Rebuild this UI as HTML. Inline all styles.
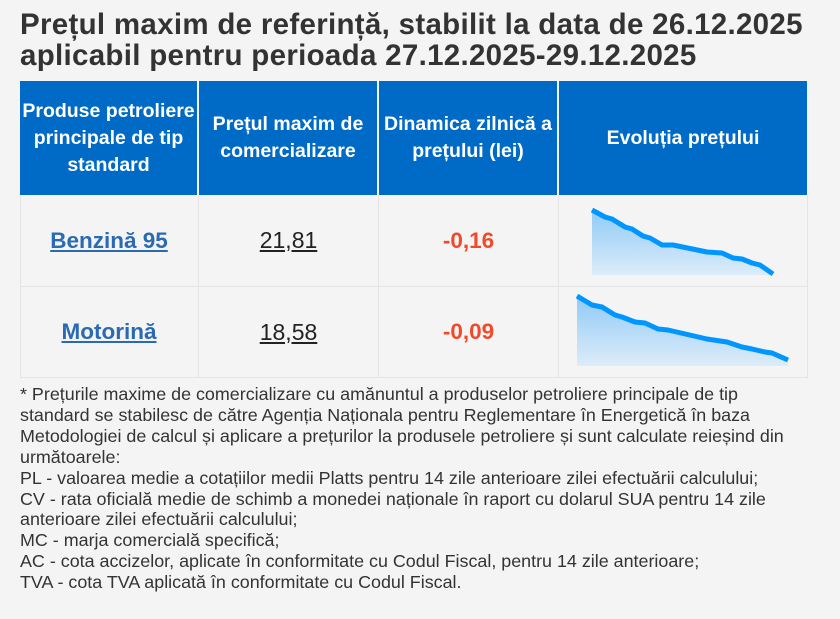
<!DOCTYPE html>
<html><head><meta charset="utf-8"><style>
*{margin:0;padding:0;box-sizing:border-box}
body{width:840px;height:619px;background:#f4f4f4;font-family:"Liberation Sans",sans-serif;color:#333;position:relative;overflow:hidden}
.t{position:absolute;left:20px;top:9px;font-size:29.5px;letter-spacing:0.3px;font-weight:bold;line-height:31px;color:#333;white-space:nowrap}
.cell{position:absolute;display:flex;align-items:center;justify-content:center;text-align:center}
.h{background:#006bc6;color:#fff;font-weight:bold;font-size:19.5px;line-height:27px;top:81px;height:114px}
.b{border-right:1px solid #e4e4e4;border-bottom:1px solid #e4e4e4}
a{color:#2a6ab4;font-weight:bold;font-size:22.5px;text-decoration:underline}
.n{font-size:23px;color:#222;text-decoration:underline}
.r{color:#f04a2a;font-weight:bold;font-size:22.5px}
.f{position:absolute;left:20px;top:384px;font-size:17.9px;line-height:20.9px;color:#333;width:815px;white-space:nowrap}
</style></head><body>
<div class="t">Prețul maxim de referință, stabilit la data de 26.12.2025<br>aplicabil pentru perioada 27.12.2025-29.12.2025</div>
<div class="cell h" style="left:20px;width:177px">Produse petroliere principale de tip standard</div>
<div class="cell h" style="left:199px;width:178px">Prețul maxim de<br>comercializare</div>
<div class="cell h" style="left:379px;width:178px">Dinamica zilnică a<br>prețului (lei)</div>
<div class="cell h" style="left:559px;width:248px">Evoluția prețului</div>
<div style="position:absolute;left:20px;top:195px;width:788px;height:183px;border-left:1px solid #e4e4e4"></div>
<div class="cell b" style="left:20px;top:195px;width:179px;height:92px"><a>Benzină 95</a></div>
<div class="cell b" style="left:199px;top:195px;width:180px;height:92px"><span class="n">21,81</span></div>
<div class="cell b" style="left:379px;top:195px;width:180px;height:92px"><span class="r">-0,16</span></div>
<div class="cell b" style="left:559px;top:195px;width:249px;height:92px"></div>
<div class="cell b" style="left:20px;top:287px;width:179px;height:91px"><a>Motorină</a></div>
<div class="cell b" style="left:199px;top:287px;width:180px;height:91px"><span class="n">18,58</span></div>
<div class="cell b" style="left:379px;top:287px;width:180px;height:91px"><span class="r">-0,09</span></div>
<div class="cell b" style="left:559px;top:287px;width:249px;height:91px"></div>
<svg style="position:absolute;left:0;top:0" width="840" height="619">
<defs><linearGradient id="g" x1="0" y1="0" x2="0" y2="1"><stop offset="0" stop-color="#8fcaf6"/><stop offset="1" stop-color="#ddecf9"/></linearGradient></defs>
<path d="M592,210 605,217 612,219 625,227 632,229 643,236 650,238 662,245 673,245 707,252 722,253 733,258 742,259 752,263 760,265 773,275 L773,275 592,275Z" fill="url(#g)"/>
<polyline points="592,210 605,217 612,219 625,227 632,229 643,236 650,238 662,245 673,245 707,252 722,253 733,258 742,259 752,263 760,265 773,274" fill="none" stroke="#0096ff" stroke-width="5" stroke-linejoin="round"/>
<path d="M577,296 592,305 602,307 615,315 622,317 635,322 645,323 658,329 668,330 707,339 727,342 742,347 752,349 765,352 772,353 788,360 L788,366 577,366Z" fill="url(#g)"/>
<polyline points="577,296 592,305 602,307 615,315 622,317 635,322 645,323 658,329 668,330 707,339 727,342 742,347 752,349 765,352 772,353 788,360" fill="none" stroke="#0096ff" stroke-width="5" stroke-linejoin="round"/>
</svg>
<div class="f">* Prețurile maxime de comercializare cu amănuntul a produselor petroliere principale de tip<br>standard se stabilesc de către Agenția Naționala pentru Reglementare în Energetică în baza<br>Metodologiei de calcul și aplicare a prețurilor la produsele petroliere și sunt calculate reieșind din<br>următoarele:<br>PL - valoarea medie a cotațiilor medii Platts pentru 14 zile anterioare zilei efectuării calculului;<br>CV - rata oficială medie de schimb a monedei naționale în raport cu dolarul SUA pentru 14 zile<br>anterioare zilei efectuării calculului;<br>MC - marja comercială specifică;<br>AC - cota accizelor, aplicate în conformitate cu Codul Fiscal, pentru 14 zile anterioare;<br>TVA - cota TVA aplicată în conformitate cu Codul Fiscal.</div>
</body></html>
